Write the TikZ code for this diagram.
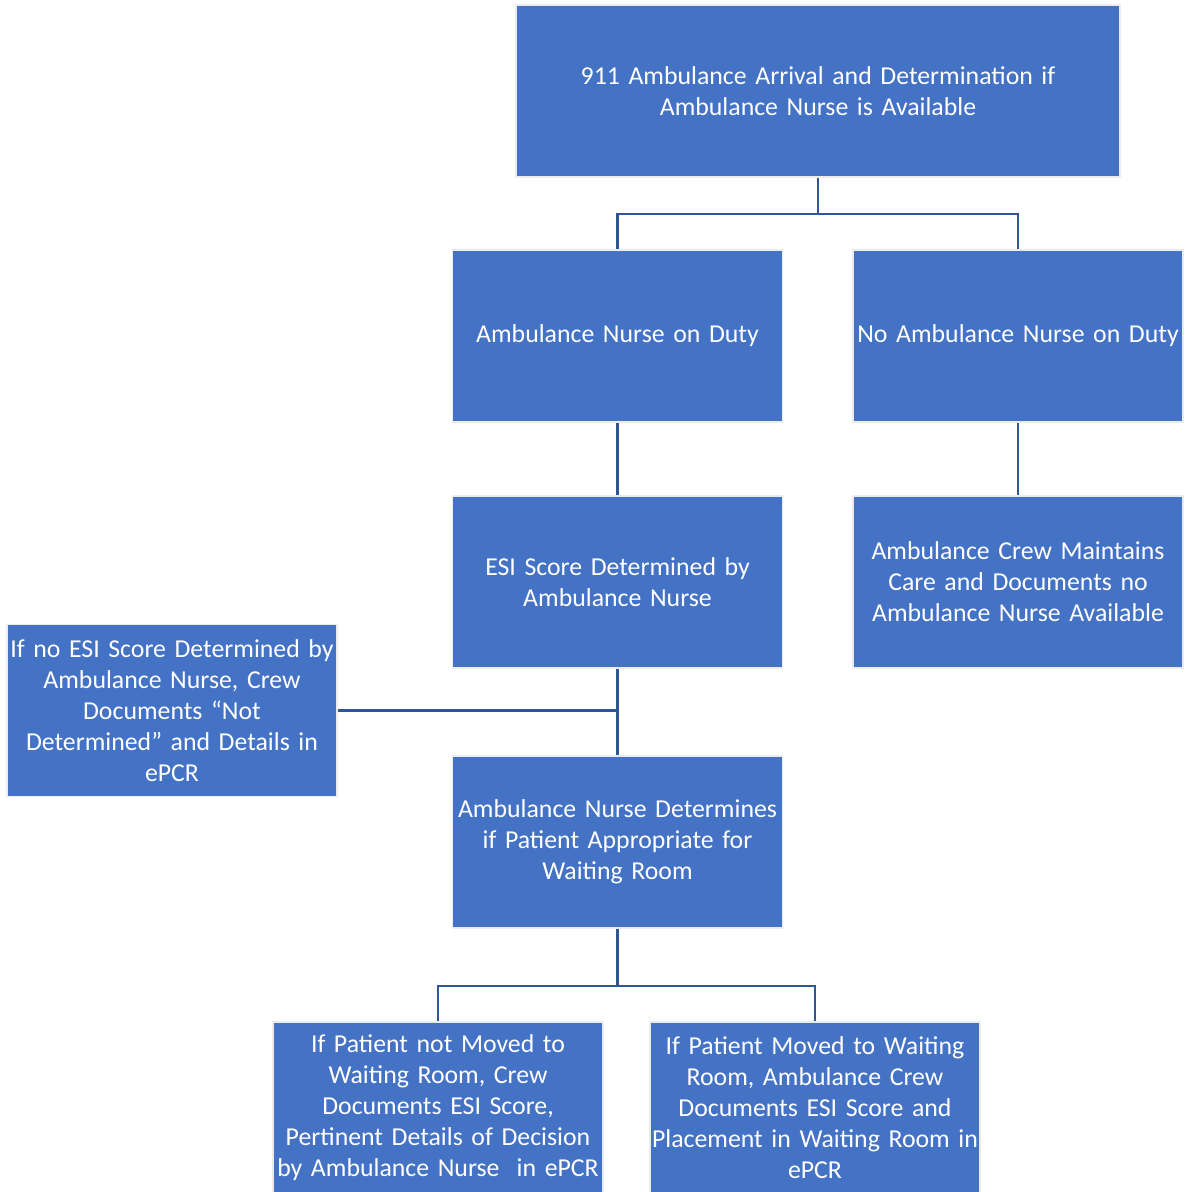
\documentclass[tikz,border=0pt]{standalone}
\usepackage{fontspec}
\setmainfont{Carlito}
\usetikzlibrary{calc}
\definecolor{boxblue}{HTML}{4472C4}
\definecolor{linkblue}{HTML}{2F5597}
\begin{document}
\begin{tikzpicture}[x=1pt,y=-1pt,
  box/.style={rectangle, fill=boxblue, draw=gray!15, line width=1.5pt,
    minimum width=330pt, minimum height=172pt, inner sep=0pt,
    text=white, align=center, text width=330pt,
    font=\fontsize{25.8}{31}\selectfont},
  link/.style={draw=linkblue, line width=2.4pt}]
\useasboundingbox (0,0) rectangle (1185,1192);
\clip (0,0) rectangle (1185,1192);
\fill[white] (0,0) rectangle (1185,1192);
\node[box, minimum width=604pt, text width=560pt] (top) at (818,91) {911 Ambulance Arrival and Determination if\\Ambulance Nurse is Available};
\node[box] (nurse) at (617.5,336) {Ambulance Nurse on Duty};
\node[box] (nonurse) at (1018,336) {No Ambulance Nurse on Duty};
\node[box] (esi) at (617.5,582) {ESI Score Determined by\\Ambulance Nurse};
\node[box] (crew) at (1018,582) {Ambulance Crew Maintains\\Care and Documents no\\Ambulance Nurse Available};
\node[box] (noesi) at (172,710.5) {If no ESI Score Determined by\\Ambulance Nurse, Crew\\Documents “Not\\Determined” and Details in\\ePCR};
\node[box] (det) at (617.5,842) {Ambulance Nurse Determines\\if Patient Appropriate for\\Waiting Room};
\node[box] (notmoved) at (438,1108) {If Patient not Moved to\\Waiting Room, Crew\\Documents ESI Score,\\Pertinent Details of Decision\\by Ambulance Nurse\ \ in ePCR};
\node[box] (moved) at (815,1108) {If Patient Moved to Waiting\\Room, Ambulance Crew\\Documents ESI Score and\\Placement in Waiting Room in\\ePCR};
\draw[link] (top.south) -- ++(0,36) -| (nurse.north);
\draw[link] (top.south) -- ++(0,36) -| (nonurse.north);
\draw[link] (nurse.south) -- (esi.north);
\draw[link] (nonurse.south) -- (crew.north);
\draw[link] (esi.south) -- (det.north);
\draw[link] (noesi.east) -- (noesi.east -| esi.south);
\draw[link] (det.south) -- ++(0,57) -| (notmoved.north);
\draw[link] (det.south) -- ++(0,57) -| (moved.north);
\end{tikzpicture}
\end{document}
